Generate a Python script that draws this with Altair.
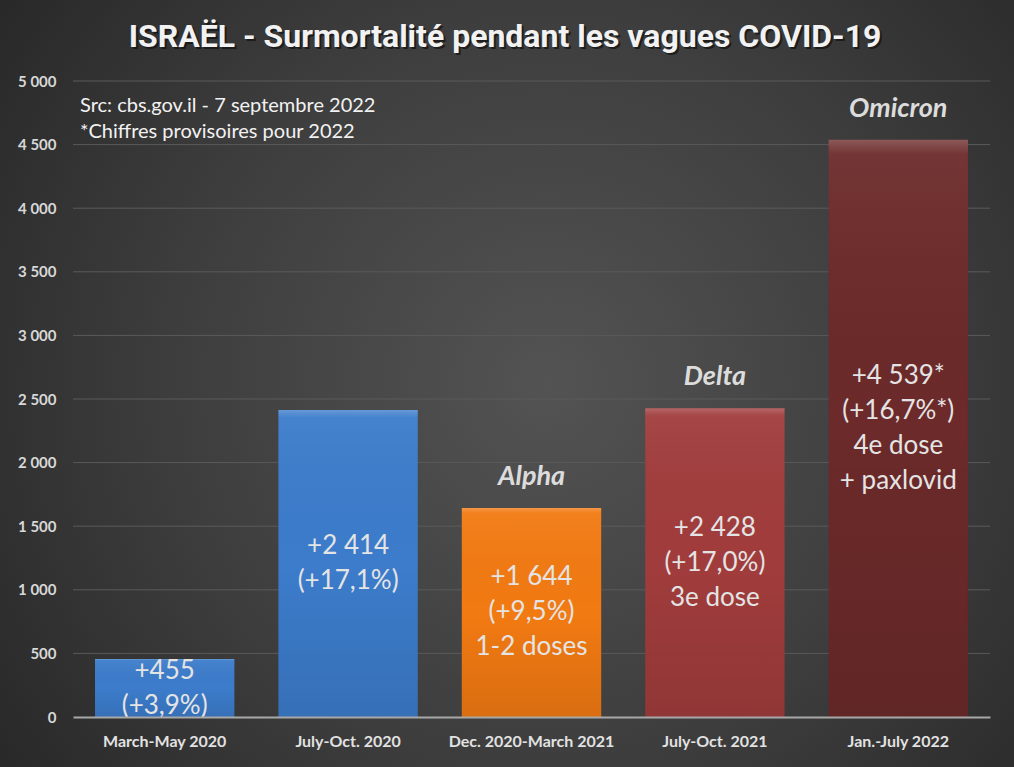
import altair as alt
import pandas as pd

periods = ["March-May 2020", "July-Oct. 2020", "Dec. 2020-March 2021", "July-Oct. 2021", "Jan.-July 2022"]
excess = [455, 2414, 1644, 2428, 4539]
bar_lines = [
    ["+455", "(+3,9%)"],
    ["+2 414", "(+17,1%)"],
    ["+1 644", "(+9,5%)", "1-2 doses"],
    ["+2 428", "(+17,0%)", "3e dose"],
    ["+4 539*", "(+16,7%*)", "4e dose", "+ paxlovid"],
]
variants = ["", "", "Alpha", "Delta", "Omicron"]
bar_colors = ["#3c7ccb", "#3c7ccb", "#f27a12", "#a13c3c", "#6c2a2a"]
y_ticks = [0, 500, 1000, 1500, 2000, 2500, 3000, 3500, 4000, 4500, 5000]
notes = ["Src: cbs.gov.il - 7 septembre 2022", "*Chiffres provisoires pour 2022"]
note_y = [4800, 4600]
title_text = "ISRAËL - Surmortalité pendant les vagues COVID-19"

df = pd.DataFrame({"period": periods, "excess": excess,
                   "variant": variants, "color": bar_colors})
line_rows = []
for p, v, lines in zip(periods, excess, bar_lines):
    for i, t in enumerate(lines):
        line_rows.append({"period": p, "excess": v, "line": t, "idx": i, "n": len(lines)})
lines_df = pd.DataFrame(line_rows)
grid_df = pd.DataFrame({"tick": y_ticks})
notes_df = pd.DataFrame({"note": notes, "ny": note_y})
title_df = pd.DataFrame({"t": [title_text]})

W, H = 917, 636
PAD = {"left": 73, "top": 81, "right": 24, "bottom": 50}
LINE_UNITS = 35 * 5000 / H  # one text line (35 px) in data units

yscale = alt.Scale(domain=[0, 5000], nice=False)
xscale = alt.Scale(domain=periods, paddingInner=0.24, paddingOuter=0.12)

yaxis = alt.Axis(values=y_ticks, labelExpr="replace(format(datum.value, ','), ',', ' ')",
                 labelFont="Lato", labelFontSize=15, labelFontWeight="bold",
                 labelColor="#d8d8d8", labelPadding=17, ticks=False,
                 domain=False, grid=False, zindex=1, title=None)
xaxis = alt.Axis(labelAngle=0, labelFont="Lato", labelFontSize=16,
                 labelFontWeight="bold", labelColor="#e2e2e2",
                 labelPadding=16, ticks=False, domainColor="#a8a8a8",
                 domainWidth=2, grid=False, zindex=1, title=None)

bg = alt.Chart(alt.Data(values=[{"a": 1}])).mark_rect(
    fill=alt.RadialGradient(
        gradient="radial",
        x1=0.54, y1=0.5, r1=0.0,
        x2=0.54, y2=0.5, r2=0.72,
        stops=[alt.GradientStop(color="#535353", offset=0),
               alt.GradientStop(color="#3e3e3e", offset=0.5),
               alt.GradientStop(color="#242424", offset=1)],
    )
).encode(
    x=alt.value(-PAD["left"]), x2=alt.value(W + PAD["right"]),
    y=alt.value(-PAD["top"]), y2=alt.value(H + PAD["bottom"]),
)

grid = alt.Chart(grid_df).transform_filter("datum.tick > 0").mark_rule(
    color="#5a5a5a", strokeWidth=1
).encode(y=alt.Y("tick:Q", scale=yscale, axis=yaxis))

base = alt.Chart(df)

bars = base.mark_bar().encode(
    x=alt.X("period:N", scale=xscale, sort=periods, axis=xaxis),
    y=alt.Y("excess:Q", scale=yscale, axis=yaxis),
    fill=alt.Fill("color:N", scale=None),
)

shade = base.mark_bar(
    fill=alt.LinearGradient(
        gradient="linear", x1=0, y1=0, x2=0, y2=1,
        stops=[alt.GradientStop(color="rgba(255,255,255,0.22)", offset=0),
               alt.GradientStop(color="rgba(255,255,255,0.05)", offset=0.025),
               alt.GradientStop(color="rgba(0,0,0,0.0)", offset=0.5),
               alt.GradientStop(color="rgba(0,0,0,0.10)", offset=1)],
    )
).encode(
    x=alt.X("period:N", scale=xscale, sort=periods, axis=xaxis),
    y=alt.Y("excess:Q", scale=yscale, axis=yaxis),
)

inner = alt.Chart(lines_df).transform_calculate(
    ly=f"datum.excess / 2 + ((datum.n - 1) / 2 - datum.idx) * {LINE_UNITS}"
).mark_text(
    font="Lato", fontSize=26, color="#e4e4e4", align="center", baseline="middle"
).encode(
    x=alt.X("period:N", scale=xscale, sort=periods, axis=xaxis),
    y=alt.Y("ly:Q", scale=yscale, axis=yaxis),
    text="line:N",
)

top = base.mark_text(
    font="Lato", fontSize=27, fontWeight="bold", fontStyle="italic",
    color="#dcdcdc", align="center", baseline="middle", dy=-31
).encode(
    x=alt.X("period:N", scale=xscale, sort=periods, axis=xaxis),
    y=alt.Y("excess:Q", scale=yscale, axis=yaxis),
    text="variant:N",
)

note = alt.Chart(notes_df).mark_text(
    font="Lato", fontSize=20, color="#f2f2f2", align="left", baseline="middle"
).encode(
    x=alt.value(7),
    y=alt.Y("ny:Q", scale=yscale, axis=yaxis),
    text="note:N",
)

title_shadow = alt.Chart(title_df).mark_text(
    font="Roboto", fontSize=32, fontWeight="bold", color="#111111", opacity=0.7,
    align="center", baseline="alphabetic"
).encode(x=alt.value(434), y=alt.value(-32), text="t:N")

title = alt.Chart(title_df).mark_text(
    font="Roboto", fontSize=32, fontWeight="bold", color="#f2f2f2",
    align="center", baseline="alphabetic"
).encode(x=alt.value(432), y=alt.value(-34), text="t:N")

chart = alt.layer(bg, grid, bars, shade, inner, top, note, title_shadow, title).properties(
    width=W, height=H,
    autosize=alt.AutoSizeParams(type="none"),
    padding=PAD,
    background="#2b2b2b",
).configure_view(stroke=None)

chart.save("out.html", embed_options={"renderer": "svg", "actions": False})
